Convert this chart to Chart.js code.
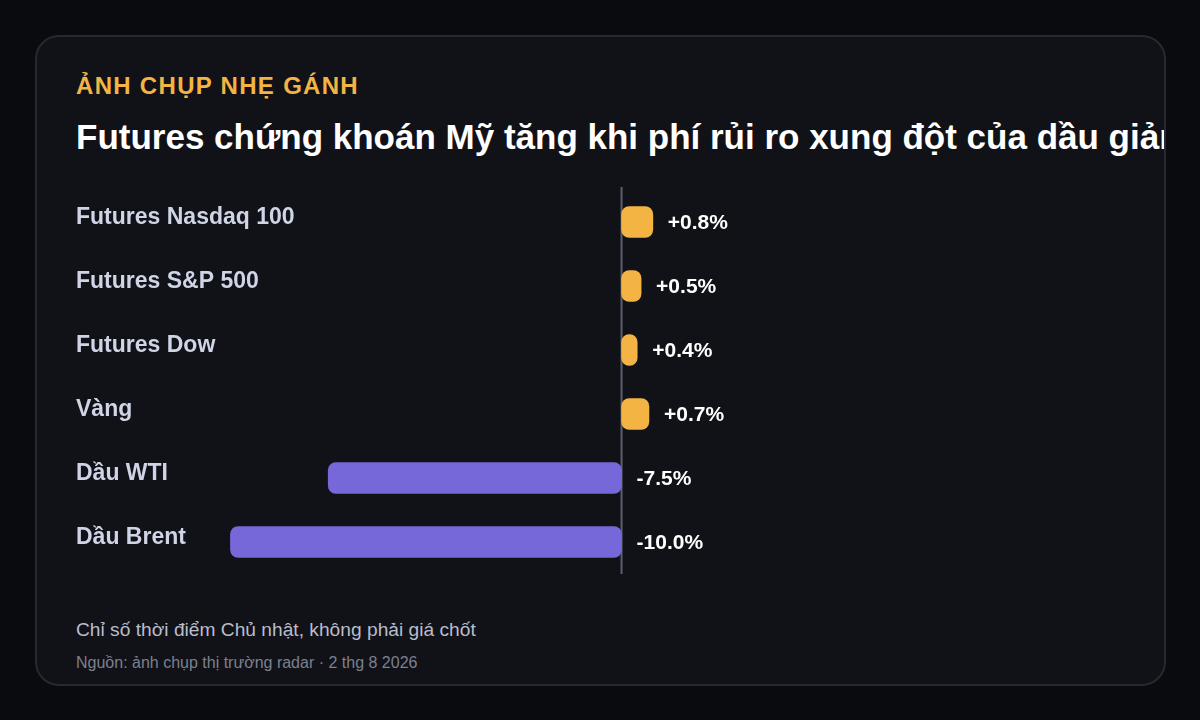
<!DOCTYPE html>
<html lang="vi">
<head>
<meta charset="utf-8">
<title>Futures chứng khoán Mỹ</title>
<script src="https://cdn.jsdelivr.net/npm/chart.js@4/dist/chart.umd.min.js"></script>
<style>
    html, body {
        margin: 0;
        padding: 0;
        width: 1200px;
        height: 720px;
        background: #0a0b0e;
        font-family: "Liberation Sans", Arial, sans-serif;
        overflow: hidden;
    }
    .card {
        position: absolute;
        left: 35px;
        top: 35px;
        width: 1131px;
        height: 651px;
        box-sizing: border-box;
        background: #111217;
        border: 2px solid #262932;
        border-radius: 24px;
        overflow: hidden;
    }
    .kicker {
        position: absolute;
        left: 39px;
        top: 35px;
        color: #f4b443;
        font-weight: bold;
        font-size: 24px;
        letter-spacing: 1.3px;
        white-space: nowrap;
    }
    .title {
        position: absolute;
        left: 39px;
        top: 80px;
        color: #ffffff;
        font-weight: bold;
        font-size: 35px;
        white-space: nowrap;
    }
    .chart-box {
        position: absolute;
        left: 37px;
        top: 146px;
        width: 1056px;
        height: 395px;
    }
    .note {
        position: absolute;
        left: 39px;
        top: 582px;
        color: #b9bdcc;
        font-size: 19.2px;
        white-space: nowrap;
    }
    .source {
        position: absolute;
        left: 39px;
        top: 617px;
        color: #7c808f;
        font-size: 16px;
        white-space: nowrap;
    }
</style>
</head>
<body>
<div class="card">
    <div class="kicker">ẢNH CHỤP NHẸ GÁNH</div>
    <div class="title">Futures chứng khoán Mỹ tăng khi phí rủi ro xung đột của dầu giảm</div>
    <div class="chart-box"><canvas id="chartBar"></canvas></div>
    <div class="note">Chỉ số thời điểm Chủ nhật, không phải giá chốt</div>
    <div class="source">Nguồn: ảnh chụp thị trường radar · 2 thg 8 2026</div>
</div>

<script>
// data
var labels = ["Futures Nasdaq 100", "Futures S&P 500", "Futures Dow", "Vàng", "Dầu WTI", "Dầu Brent"];
var values = [0.8, 0.5, 0.4, 0.7, -7.5, -10.0];
var valueText = ["+0.8%", "+0.5%", "+0.4%", "+0.7%", "-7.5%", "-10.0%"];

var upColor = "#f4b443";
var downColor = "#7668d8";

// zero line + text labels
var labelPlugin = {
    id: 'barLabels',
    beforeDatasetsDraw: function (chart) {
        var ctx = chart.ctx;
        var x0 = chart.scales.x.getPixelForValue(0);
        ctx.save();
        ctx.strokeStyle = "#5b5f6e";
        ctx.lineWidth = 2;
        ctx.beginPath();
        ctx.moveTo(x0, chart.chartArea.top - 3);
        ctx.lineTo(x0, chart.chartArea.bottom);
        ctx.stroke();
        ctx.restore();
    },
    afterDatasetsDraw: function (chart) {
        var ctx = chart.ctx;
        var meta = chart.getDatasetMeta(0);
        var x0 = chart.scales.x.getPixelForValue(0);
        ctx.save();
        ctx.textBaseline = 'middle';
        meta.data.forEach(function (bar, i) {
            // category name
            ctx.font = "bold 23px 'Liberation Sans', Arial, sans-serif";
            ctx.fillStyle = "#cfd4e6";
            ctx.textAlign = 'left';
            ctx.fillText(labels[i], chart.chartArea.left + 2, bar.y - 4);

            // value
            ctx.font = "bold 21px 'Liberation Sans', Arial, sans-serif";
            ctx.fillStyle = "#ffffff";
            var xEnd = Math.max(bar.x, x0);
            ctx.fillText(valueText[i], xEnd + 15, bar.y + 1);
        });
        ctx.restore();
    }
};

function barChart() {
    var ctx = document.getElementById("chartBar").getContext('2d');
    var chart = new Chart(ctx, {
        type: 'bar',
        data: {
            labels: labels,
            datasets: [{
                data: values,
                backgroundColor: values.map(function (v) { return v >= 0 ? upColor : downColor; }),
                borderRadius: 8,
                borderSkipped: false,
                barThickness: 31
            }]
        },
        options: {
            indexAxis: 'y',
            responsive: true,
            maintainAspectRatio: false,
            devicePixelRatio: 1,
            animation: false,
            layout: {
                padding: { top: 7, bottom: 4, left: 0, right: 0 }
            },
            plugins: {
                legend: { display: false },
                tooltip: { enabled: false }
            },
            scales: {
                x: {
                    display: false,
                    min: -14,
                    max: 13
                },
                y: {
                    display: false
                }
            }
        },
        plugins: [labelPlugin]
    });
}

barChart();
</script>
</body>
</html>
